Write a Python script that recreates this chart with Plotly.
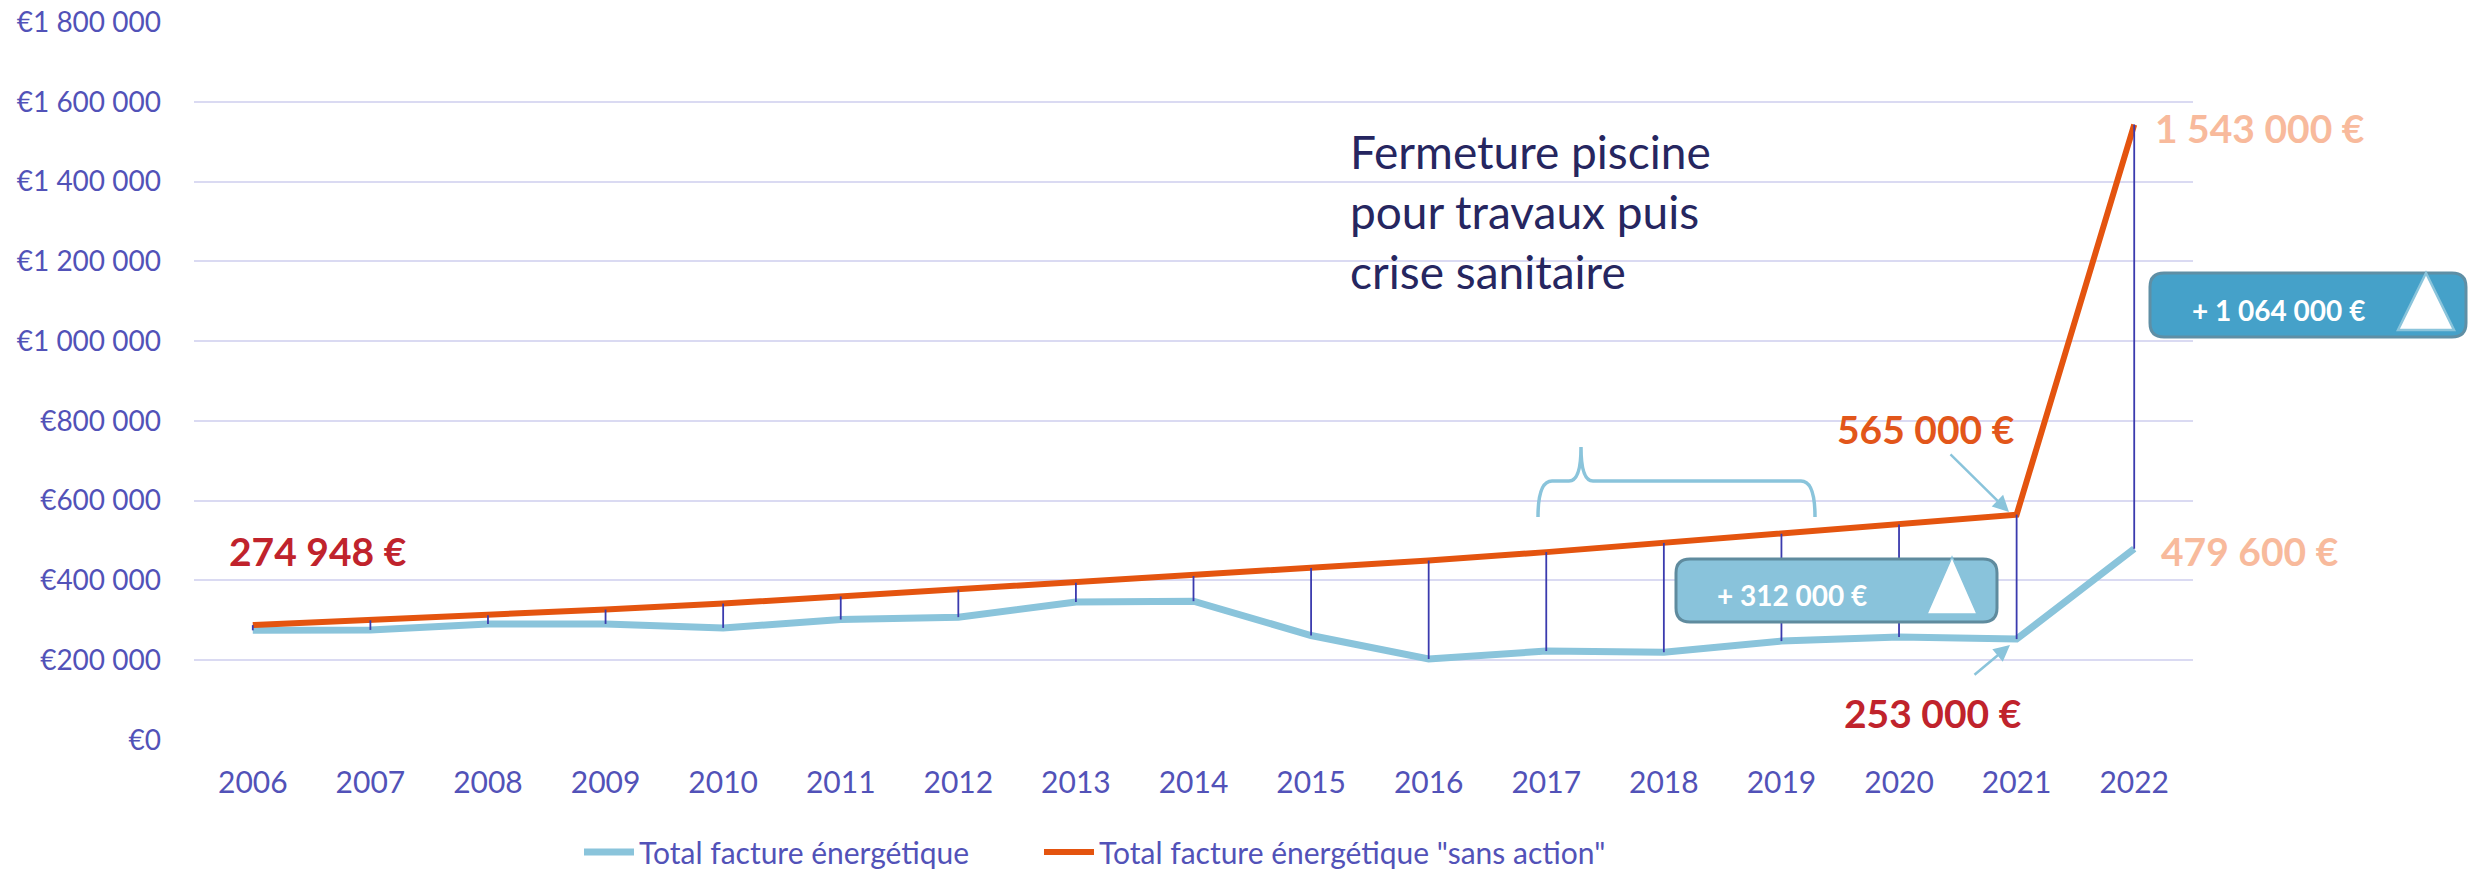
import plotly.graph_objects as go

# ---------------- data ----------------
years = [2006, 2007, 2008, 2009, 2010, 2011, 2012, 2013, 2014, 2015, 2016, 2017, 2018, 2019, 2020, 2021, 2022]
total_facture = [274948, 276000, 291000, 291000, 281000, 302000, 308000, 346000, 348000, 262000, 203000,
                 223000, 220000, 248000, 258000, 253000, 479600]
sans_action = [288000, 300000, 313000, 327000, 342000, 360000, 377000, 394000, 411000, 431000, 450000,
               471000, 494000, 517000, 540000, 565000, 1543000]
y_tick_values = [0, 200000, 400000, 600000, 800000, 1000000, 1200000, 1400000, 1600000, 1800000]
y_tick_labels = ["€0", "€200 000", "€400 000", "€600 000", "€800 000", "€1 000 000",
                 "€1 200 000", "€1 400 000", "€1 600 000", "€1 800 000"]
series_names = ["Total facture énergétique", 'Total facture énergétique "sans action"']

# ---------------- layout geometry (pixels) ----------------
W, H = 2468, 871
L, R, T, B = 194, 2193, 22, 740   # plot area in pixels


def px(x):
    return (x - L) / (R - L)


def py(y):
    return (B - y) / (B - T)


def pt(x, y):
    return f"{px(x):.5f},{py(y):.5f}"


def rounded_rect(x0, y0, x1, y1, r):
    return (f"M {pt(x0 + r, y0)} L {pt(x1 - r, y0)} Q {pt(x1, y0)} {pt(x1, y0 + r)} "
            f"L {pt(x1, y1 - r)} Q {pt(x1, y1)} {pt(x1 - r, y1)} "
            f"L {pt(x0 + r, y1)} Q {pt(x0, y1)} {pt(x0, y1 - r)} "
            f"L {pt(x0, y0 + r)} Q {pt(x0, y0)} {pt(x0 + r, y0)} Z")


def triangle(xa, ya, xl, xr, yb):
    return f"M {pt(xa, ya)} L {pt(xr, yb)} L {pt(xl, yb)} Z"


BLUE = "#8AC4DB"
ORANGE = "#E4540F"
TICK = "#5252B8"
FONT = "Lato"

fig = go.Figure()

fig.add_trace(go.Scatter(x=years, y=total_facture, mode="lines", name=series_names[0],
                         line=dict(color=BLUE, width=7), legend="legend"))
fig.add_trace(go.Scatter(x=years, y=sans_action, mode="lines", name=series_names[1],
                         line=dict(color=ORANGE, width=6), legend="legend2"))

# high-low drop lines between the two series
dx, dy = [], []
for yr, hi, lo in zip(years, sans_action, total_facture):
    dx += [yr, yr, None]
    dy += [hi, lo, None]
fig.add_trace(go.Scatter(x=dx, y=dy, mode="lines", showlegend=False,
                         line=dict(color="#3B3BAE", width=1.8), hoverinfo="skip"))

shapes = []
# brace
brace = (f"M {pt(1538, 517)} Q {pt(1538, 481)} {pt(1552, 481)} L {pt(1569, 481)} "
         f"Q {pt(1581, 481)} {pt(1581, 447)} Q {pt(1581, 481)} {pt(1593, 481)} "
         f"L {pt(1801, 481)} Q {pt(1815, 481)} {pt(1815, 517)}")
shapes.append(dict(type="path", xref="paper", yref="paper", path=brace,
                   line=dict(color=BLUE, width=3.5), layer="above"))
# box 1
shapes.append(dict(type="path", xref="paper", yref="paper", path=rounded_rect(1676, 559, 1997, 622, 14),
                   fillcolor="#89C3DB", line=dict(color="#5F8B9E", width=3), layer="above"))
shapes.append(dict(type="path", xref="paper", yref="paper", path=triangle(1952, 557, 1927, 1977, 614),
                   fillcolor="white", line=dict(color="#89C3DB", width=1.5), layer="above"))
# box 2
shapes.append(dict(type="path", xref="paper", yref="paper", path=rounded_rect(2150, 273, 2466, 337, 14),
                   fillcolor="#45A1C9", line=dict(color="#5F8FA5", width=3), layer="above"))
shapes.append(dict(type="path", xref="paper", yref="paper", path=triangle(2426, 273, 2398, 2454, 330),
                   fillcolor="white", line=dict(color="#8AC4DB", width=2.5), layer="above"))

annotations = []


def label(text, x, y, color, size, bold=True, xanchor="center"):
    annotations.append(dict(text=f"<b>{text}</b>" if bold else text, x=px(x), y=py(y),
                            xref="paper", yref="paper", showarrow=False, xanchor=xanchor,
                            yanchor="middle", align="left",
                            font=dict(family=FONT, size=size, color=color)))


label("274 948 €", 318, 551, "#C0232C", 39)
label("565 000 €", 1926, 429, "#E2561A", 39)
label("253 000 €", 1933, 713, "#C0232C", 39)
label("1 543 000 €", 2260, 128, "#F8BA9C", 39)
label("479 600 €", 2250, 551, "#F8BA9C", 39)
label("Fermeture piscine<br>pour travaux puis<br>crise sanitaire", 1348, 211, "#262660", 46,
      bold=False, xanchor="left")
label("+ 312 000 €", 1792, 595, "white", 28)
label("+ 1 064 000 €", 2278, 310, "white", 28)

# arrows
for (hx, hy, tx, ty) in [(2009, 512, 1949, 453), (2010, 645, 1973, 676)]:
    annotations.append(dict(text="", x=px(hx), y=py(hy), xref="paper", yref="paper",
                            showarrow=True, ax=tx - hx, ay=ty - hy, axref="pixel", ayref="pixel",
                            arrowcolor=BLUE, arrowwidth=2.5, arrowhead=2, arrowsize=1.3,
                            standoff=0))

legend_common = dict(orientation="h", yanchor="middle", xanchor="left",
                     font=dict(family=FONT, size=30, color=TICK), itemwidth=50,
                     bgcolor="rgba(0,0,0,0)")

fig.update_layout(
    width=W, height=H, autosize=False,
    margin=dict(l=L, r=W - R, t=T, b=H - B, pad=0, autoexpand=False),
    paper_bgcolor="white", plot_bgcolor="white",
    font=dict(family=FONT, size=29, color=TICK),
    shapes=shapes, annotations=annotations,
    showlegend=True,
    legend=dict(x=px(579), y=py(852), **legend_common),
    legend2=dict(x=px(1039), y=py(852), **legend_common),
    xaxis=dict(range=[2005.5, 2022.5], tickmode="array", tickvals=years,
               ticktext=[str(y) for y in years], showgrid=False, zeroline=False,
               showline=False, ticks="", ticklabelstandoff=22,
               tickfont=dict(family=FONT, size=30, color=TICK)),
    yaxis=dict(range=[0, 1800000], tickmode="array", tickvals=y_tick_values,
               ticktext=y_tick_labels, showgrid=True, gridcolor="#DADAF2", gridwidth=2,
               zeroline=False, showline=False, ticks="", ticklabelstandoff=32,
               tickfont=dict(family=FONT, size=28, color=TICK)),
)

fig.write_html("out.html", config={"displayModeBar": False},
               post_script="document.body.style.margin='0';document.body.style.overflow='hidden';")
